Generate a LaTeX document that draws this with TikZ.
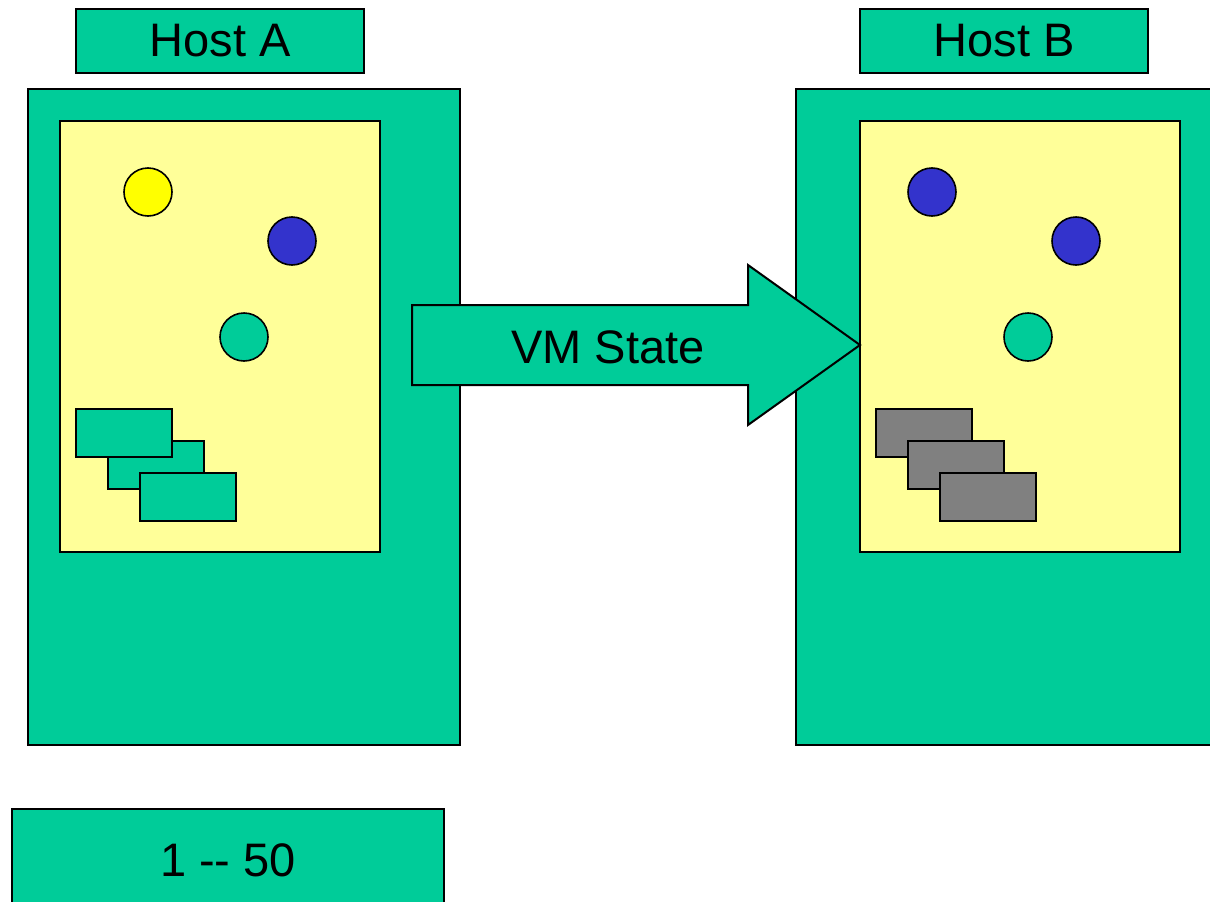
\documentclass[tikz,border=0pt]{standalone}
\usepackage{fontspec}
\setmainfont{Liberation Sans}
\definecolor{hostgreen}{RGB}{0,204,153}
\definecolor{paleyellow}{RGB}{255,255,153}
\definecolor{vmblue}{RGB}{51,51,204}
\definecolor{vmyellow}{RGB}{255,255,0}
\definecolor{diskgrey}{RGB}{128,128,128}
\tikzset{
  outline/.style={draw=black, line width=2pt},
  greenbox/.style={outline, fill=hostgreen, rectangle, inner sep=0pt},
  panel/.style={outline, fill=paleyellow, rectangle, inner sep=0pt},
  vm/.style={outline, line width=1.6pt, circle, minimum size=48pt, inner sep=0pt},
  disk/.style={outline, line width=1.6pt, rectangle, minimum width=96pt, minimum height=48pt, inner sep=0pt},
  bigtext/.style={font=\fontsize{47}{56}\selectfont, text=black},
}
\begin{document}
\begin{tikzpicture}[x=1pt, y=-1pt]
\useasboundingbox (0,0) rectangle (1210,902);
\clip (0,0) rectangle (1210,902);

% host labels
\node[greenbox, minimum width=288pt, minimum height=64pt, bigtext] (labelA) at (220,41) {Host A};
\node[greenbox, minimum width=288pt, minimum height=64pt, bigtext] (labelB) at (1004,41) {Host B};

% host frames
\node[greenbox, minimum width=432pt, minimum height=656pt] (hostA) at (244,417) {};
\node[greenbox, minimum width=432pt, minimum height=656pt] (hostB) at (1012,417) {};

% memory panels
\node[panel, minimum width=320pt, minimum height=431pt] (memA) at (220,336.5) {};
\node[panel, minimum width=320pt, minimum height=431pt] (memB) at (1020,336.5) {};

% virtual machines on host A
\node[vm, fill=vmyellow] (a1) at (148,192) {};
\node[vm, fill=vmblue] (a2) at (292,241) {};
\node[vm, fill=hostgreen] (a3) at (244,337) {};

% virtual machines on host B
\node[vm, fill=vmblue] (b1) at (932,192) {};
\node[vm, fill=vmblue] (b2) at (1076,241) {};
\node[vm, fill=hostgreen] (b3) at (1028,337) {};

% disk stack on host A
\node[disk, fill=hostgreen] (da2) at (156,465) {};
\node[disk, fill=hostgreen] (da1) at (124,433) {};
\node[disk, fill=hostgreen] (da3) at (188,497) {};

% disk stack on host B
\node[disk, fill=diskgrey] (db1) at (924,433) {};
\node[disk, fill=diskgrey] (db2) at (956,465) {};
\node[disk, fill=diskgrey] (db3) at (988,497) {};

% state transfer arrow
\draw[outline, fill=hostgreen, line join=miter]
  (412,305) -- (748,305) -- (748,265) -- (860,345) -- (748,425) -- (748,385) -- (412,385) -- cycle;
\node[bigtext] (vmstate) at (608,347) {VM State};

% counter box
\node[greenbox, minimum width=432pt, minimum height=120pt] (counter) at (228,869) {};
\node[bigtext] (range) at (228,860) {1 -{}- 50};
\end{tikzpicture}
\end{document}
